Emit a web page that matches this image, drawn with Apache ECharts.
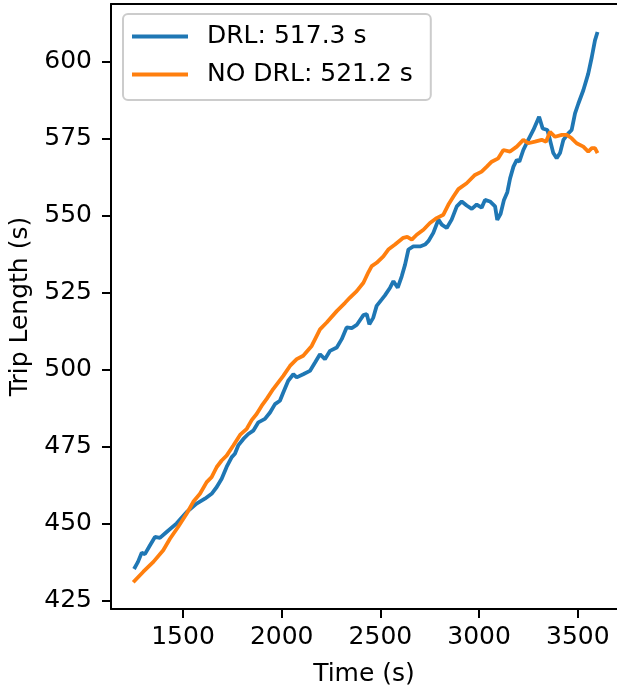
<!DOCTYPE html>
<html>
<head>
    <meta charset="UTF-8">
    <title>Trip Length</title>
    <script type="text/javascript" src="https://cdn.jsdelivr.net/npm/echarts@6/dist/echarts.min.js"></script>
    <style>
        html, body { margin: 0; padding: 0; background: #fff; }
    </style>
</head>
<body>
<div id="main" style="width: 617px;height:692px;"></div>
<script type="text/javascript">
    // values
    var drlTime = [1252, 1272, 1291, 1307, 1333, 1358, 1383, 1417, 1468, 1519, 1569, 1611, 1645, 1671, 1696, 1721,
        1747, 1763, 1780, 1806, 1831, 1856, 1882, 1915, 1941, 1966, 1991, 2008, 2033, 2059, 2076, 2109, 2143, 2169,
        2194, 2219, 2245, 2279, 2304, 2329, 2355, 2380, 2414, 2431, 2444, 2464, 2481, 2507, 2523, 2549, 2566, 2588,
        2608, 2625, 2642, 2667, 2701, 2726, 2743, 2768, 2794, 2811, 2836, 2861, 2887, 2912, 2937, 2963, 2988, 3013,
        3030, 3055, 3064, 3081, 3092, 3109, 3126, 3143, 3157, 3174, 3191, 3204, 3224, 3249, 3275, 3304, 3322, 3346,
        3359, 3376, 3393, 3410, 3427, 3452, 3469, 3486, 3503, 3528, 3553, 3571, 3587, 3600];
    var drlTrip = [435.2, 437.5, 440.5, 440.0, 442.9, 445.6, 445.3, 447.2, 450.0, 453.7, 456.4, 458.0, 459.6, 461.8,
        464.5, 468.3, 471.5, 472.6, 475.3, 477.4, 479.0, 480.1, 482.8, 483.9, 486.0, 488.7, 489.8, 492.5, 496.3,
        498.4, 497.4, 498.4, 499.5, 502.2, 504.9, 503.3, 506.0, 507.1, 509.8, 513.6, 513.4, 514.4, 517.6, 517.9,
        514.6, 516.8, 520.6, 522.7, 524.0, 526.5, 528.6, 526.5, 530.2, 534.0, 538.9, 539.9, 539.9, 540.5, 541.6,
        544.3, 548.6, 547.0, 545.9, 548.6, 552.9, 554.5, 553.2, 552.1, 553.5, 552.5, 555.0, 554.5, 554.5, 552.9,
        548.5, 550.5, 555.0, 557.5, 562.0, 565.8, 568.0, 567.4, 571.2, 574.5, 577.7, 582.0, 578.2, 577.7, 574.5,
        570.2, 568.5, 570.2, 574.5, 576.6, 577.7, 583.1, 586.3, 590.6, 596.0, 601.4, 606.8, 609.5];

    var noDrlTime = [1248, 1299, 1350, 1400, 1434, 1476, 1519, 1552, 1586, 1620, 1645, 1671, 1696, 1721, 1755, 1789,
        1823, 1848, 1873, 1899, 1924, 1957, 2008, 2042, 2076, 2109, 2152, 2194, 2228, 2279, 2321, 2346, 2380, 2414,
        2439, 2456, 2481, 2515, 2540, 2574, 2616, 2636, 2659, 2684, 2718, 2751, 2785, 2819, 2844, 2870, 2895, 2937,
        2979, 3013, 3039, 3064, 3097, 3123, 3157, 3191, 3224, 3249, 3283, 3317, 3339, 3359, 3385, 3419, 3444, 3469,
        3494, 3528, 3553, 3571, 3587, 3600];
    var noDrlTrip = [430.9, 434.3, 437.5, 441.3, 445.0, 448.9, 453.2, 457.0, 459.6, 463.4, 465.0, 468.3, 470.4,
        472.0, 475.3, 478.7, 480.7, 483.5, 485.5, 488.2, 490.4, 493.6, 497.9, 501.1, 503.3, 504.4, 507.6, 513.0,
        515.2, 518.9, 521.6, 523.3, 525.4, 528.1, 531.5, 533.5, 534.6, 536.7, 538.9, 540.5, 542.7, 543.0, 542.1,
        543.7, 545.3, 547.5, 549.1, 550.2, 553.4, 556.1, 558.5, 560.4, 563.1, 564.2, 565.8, 567.4, 568.5, 571.2,
        570.7, 572.3, 574.5, 573.4, 573.9, 574.5, 573.9, 577.1, 575.5, 576.1, 576.1, 575.0, 573.4, 572.3, 570.7,
        571.8, 571.8, 570.2];

    var xTicks = [1500, 2000, 2500, 3000, 3500];
    var yTicks = [425, 450, 475, 500, 525, 550, 575, 600];
    var seriesNames = ['DRL: 517.3 s', 'NO DRL: 521.2 s'];

    function pairs(xs, ys) {
        var out = [];
        for (var i = 0; i < xs.length; i++) {
            out.push([xs[i], ys[i]]);
        }
        return out;
    }

    var font = 'DejaVu Sans';
    var xMin = 1135.3, xMax = 3698.6;
    var myChart = echarts.init(document.getElementById('main'));

    var option = {
        animation: false,
        textStyle: { fontFamily: font },
        grid: { left: 111, top: 4, right: 0, bottom: 81 },
        legend: {
            data: seriesNames,
            orient: 'vertical',
            left: 123, top: 14,
            icon: 'rect',
            itemWidth: 56, itemHeight: 4,
            itemGap: 13,
            padding: [10, 18, 13, 9],
            borderColor: '#cccccc', borderWidth: 2, borderRadius: 5,
            backgroundColor: 'rgba(255,255,255,0.8)',
            textStyle: { fontSize: 25, color: '#000', fontFamily: font, padding: [0, 0, 0, 14] }
        },
        xAxis: [
            {
                type: 'value',
                min: xMin, max: xMax,
                name: 'Time (s)',
                nameLocation: 'middle',
                nameGap: 53,
                nameTextStyle: { fontSize: 25, color: '#000', fontFamily: font },
                axisLine: { show: true, lineStyle: { color: '#000', width: 2 } },
                axisTick: { show: true, length: 9, lineStyle: { color: '#000', width: 2 }, customValues: xTicks },
                axisLabel: {
                    fontSize: 25, color: '#000', margin: 16, customValues: xTicks,
                    formatter: function (v) { return String(v); }
                },
                splitLine: { show: false }
            },
            {
                // top spine only
                type: 'value',
                position: 'top',
                min: xMin, max: xMax,
                axisLine: { show: true, onZero: false, lineStyle: { color: '#000', width: 2 } },
                axisTick: { show: false },
                axisLabel: { show: false },
                splitLine: { show: false }
            }
        ],
        yAxis: {
            type: 'value',
            min: 422.2, max: 618.6,
            name: 'Trip Length (s)',
            nameLocation: 'middle',
            nameGap: 76,
            nameTextStyle: { fontSize: 25, color: '#000', fontFamily: font },
            axisLine: { show: true, lineStyle: { color: '#000', width: 2 } },
            axisTick: { show: true, length: 9, lineStyle: { color: '#000', width: 2 }, customValues: yTicks },
            axisLabel: { fontSize: 25, color: '#000', margin: 19, customValues: yTicks },
            splitLine: { show: false }
        },
        series: [
            {
                name: seriesNames[0],
                type: 'line',
                data: pairs(drlTime, drlTrip),
                showSymbol: false,
                color: '#1f77b4',
                lineStyle: { width: 3.8, color: '#1f77b4' }
            },
            {
                name: seriesNames[1],
                type: 'line',
                data: pairs(noDrlTime, noDrlTrip),
                showSymbol: false,
                color: '#ff7f0e',
                lineStyle: { width: 3.8, color: '#ff7f0e' }
            }
        ]
    };

    myChart.setOption(option);
</script>
</body>
</html>
